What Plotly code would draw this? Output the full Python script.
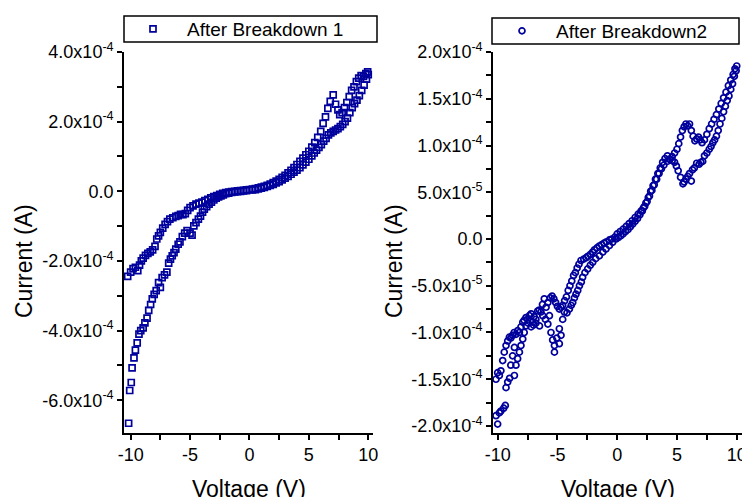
import plotly.graph_objects as go

# ---------------- Left panel: After Breakdown 1 (current in units of 1e-4 A) ----------------
L_V_up = [0.0, 0.25, 0.5, 0.75, 1.0, 1.25, 1.5, 1.75, 2.0, 2.25, 2.5, 2.75, 3.0, 3.25, 3.5, 3.75,
          4.0, 4.25, 4.5, 4.75, 5.0, 5.25, 5.5, 5.75, 6.0, 6.2, 6.4, 6.6, 6.8, 7.05, 7.25, 7.45,
          7.6, 7.8, 8.0, 8.2, 8.4, 8.6, 8.8, 9.0, 9.2, 9.4, 9.6, 9.8, 9.95]
L_I_up = [0.05, 0.06, 0.08, 0.10, 0.12, 0.14, 0.17, 0.21, 0.25, 0.29, 0.34, 0.40, 0.46, 0.53, 0.60, 0.68,
          0.77, 0.86, 0.95, 1.05, 1.15, 1.27, 1.40, 1.55, 1.72, 1.95, 2.14, 2.38, 2.58, 2.77, 2.50, 2.34,
          2.20, 2.26, 2.40, 2.55, 2.72, 2.90, 3.00, 3.15, 3.25, 3.32, 3.30, 3.38, 3.43]

L_V_down = [10.0, 9.85, 9.65, 9.45, 9.25, 9.05, 8.85, 8.65, 8.45, 8.25, 8.05, 7.85, 7.65, 7.45, 7.25,
            7.05, 6.85, 6.65, 6.45, 6.25, 6.05, 5.85, 5.65, 5.45, 5.25, 5.0, 4.75, 4.5, 4.25, 4.0,
            3.75, 3.5, 3.25, 3.0, 2.75, 2.5, 2.25, 2.0, 1.75, 1.5, 1.25, 1.0, 0.75, 0.5, 0.25]
L_I_down = [3.35, 3.22, 3.05, 2.90, 2.75, 2.62, 2.52, 2.40, 2.26, 2.10, 2.00, 1.92, 1.86, 1.80, 1.76,
            1.72, 1.68, 1.62, 1.52, 1.44, 1.34, 1.26, 1.18, 1.10, 1.02, 0.92, 0.84, 0.76, 0.68, 0.61,
            0.55, 0.49, 0.43, 0.38, 0.33, 0.28, 0.24, 0.20, 0.17, 0.14, 0.11, 0.09, 0.07, 0.05, 0.04]

L_V_neg1 = [-0.25, -0.5, -0.75, -1.0, -1.25, -1.5, -1.75, -2.0, -2.25, -2.5, -2.75, -3.0, -3.25, -3.5,
            -3.75, -4.0, -4.25, -4.5, -4.75, -5.0, -5.2, -5.4, -5.6, -5.8, -6.0, -6.2, -6.45, -6.7,
            -6.9, -7.1, -7.3, -7.5, -7.65, -7.8, -7.95, -8.15, -8.35, -8.55, -8.75, -8.95, -9.1,
            -9.25, -9.4, -9.6, -9.8, -10.0, -10.25]
L_I_neg1 = [0.04, 0.03, 0.02, 0.01, 0.0, -0.01, -0.02, -0.04, -0.06, -0.09, -0.12, -0.15, -0.19, -0.23,
            -0.27, -0.31, -0.34, -0.37, -0.42, -0.47, -0.55, -0.64, -0.67, -0.66, -0.70, -0.72, -0.76, -0.80,
            -0.87, -0.95, -1.06, -1.18, -1.28, -1.37, -1.58, -1.68, -1.74, -1.78, -1.84, -1.92, -2.0,
            -2.12, -2.28, -2.18, -2.22, -2.32, -2.44]

L_V_neg2 = [-10.17, -10.08, -9.95, -9.88, -9.72, -9.6, -9.45, -9.3, -9.15, -8.95, -8.8, -8.62, -8.48,
            -8.32, -8.18, -8.02, -7.85, -7.65, -7.5, -7.35, -7.15, -6.95, -6.8, -6.65, -6.5, -6.35,
            -6.2, -6.0, -5.85, -5.65, -5.45, -5.25, -5.0, -4.83, -4.68, -4.5, -4.3, -4.12, -3.95,
            -3.8, -3.6, -3.4, -3.2, -3.0, -2.8, -2.6, -2.4, -2.2, -2.0, -1.75, -1.5, -1.25, -1.0,
            -0.75, -0.5, -0.25]
L_I_neg2 = [-6.66, -5.72, -5.49, -5.07, -4.78, -4.56, -4.35, -4.1, -4.0, -3.92, -3.78, -3.64, -3.42,
            -3.25, -3.09, -2.96, -2.85, -2.62, -2.76, -2.48, -2.4, -2.32, -2.06, -1.95, -1.85, -1.76,
            -1.66, -1.52, -1.45, -1.3, -1.2, -1.13, -1.2, -1.26, -0.99, -0.9, -0.8, -0.71, -0.6,
            -0.51, -0.44, -0.37, -0.31, -0.25, -0.2, -0.16, -0.13, -0.1, -0.07, -0.05, -0.03, -0.02,
            -0.01, 0.0, 0.01, 0.02]

# ---------------- Right panel: After Breakdown2 (current in units of 1e-5 A) ----------------
R_V_up = [0.0, 0.25, 0.5, 0.75, 1.0, 1.25, 1.5, 1.75, 2.0, 2.2, 2.4, 2.6, 2.8, 3.0, 3.2, 3.4, 3.6, 3.8,
          4.0, 4.2, 4.4, 4.6, 4.8, 5.0, 5.15, 5.3, 5.45, 5.6, 5.75, 5.9, 6.05, 6.2, 6.35, 6.5, 6.65,
          6.8, 6.95, 7.1, 7.3, 7.5, 7.7, 7.9, 8.1, 8.3, 8.5, 8.7, 8.9, 9.1, 9.3, 9.5, 9.7, 9.85, 10.0]
R_I_up = [0.55, 0.8, 1.05, 1.35, 1.65, 1.95, 2.3, 2.65, 3.0, 3.35, 3.85, 4.45, 5.1, 5.7, 6.4, 7.0, 7.6,
          8.2, 8.6, 8.9, 8.5, 8.8, 9.2, 9.6, 10.2, 10.9, 11.6, 12.0, 12.3, 12.1, 12.3, 11.6, 11.0,
          10.5, 10.7, 10.9, 10.6, 10.3, 10.6, 11.2, 11.8, 12.3, 12.8, 13.3, 13.9, 14.5, 15.1, 15.7,
          16.4, 17.0, 17.6, 18.2, 18.5]

R_V_down = [9.95, 9.8, 9.65, 9.5, 9.35, 9.2, 9.05, 8.9, 8.75, 8.6, 8.45, 8.3, 8.15, 8.0, 7.85, 7.7,
            7.5, 7.3, 7.15, 7.0, 6.85, 6.65, 6.45, 6.3, 6.2, 6.05, 5.9, 5.75, 5.6, 5.5, 5.3, 5.1,
            4.95, 4.8, 4.6, 4.4, 4.2, 3.9, 3.7, 3.5, 3.3, 3.1, 2.9, 2.7, 2.5, 2.3, 2.1, 1.9, 1.7,
            1.5, 1.3, 1.1, 0.9, 0.7, 0.5, 0.3, 0.1]
R_I_down = [18.0, 17.4, 16.6, 16.0, 15.3, 14.8, 14.2, 13.6, 12.9, 12.3, 11.6, 11.0, 10.6, 10.3, 9.9,
            9.6, 9.2, 8.9, 8.3, 8.2, 8.0, 8.1, 7.6, 7.4, 6.2, 7.0, 6.7, 6.4, 6.1, 5.9, 6.6, 7.3,
            7.8, 8.2, 8.4, 8.55, 8.3, 7.9, 7.5, 7.0, 6.4, 5.8, 5.2, 4.6, 4.0, 3.5, 3.0, 2.6, 2.2,
            1.9, 1.6, 1.3, 1.0, 0.8, 0.55, 0.35, 0.15]

R_V_neg1 = [-0.2, -0.45, -0.65, -0.9, -1.1, -1.3, -1.5, -1.7, -1.9, -2.05, -2.25, -2.45, -2.6, -2.8,
            -3.03, -3.2, -3.35, -3.5, -3.65, -3.8, -3.95, -4.1, -4.25, -4.4, -4.56, -4.7, -4.84,
            -5.0, -5.15, -5.3, -5.45, -5.6, -5.8, -5.95, -6.1, -6.25, -6.38, -6.52, -6.65, -6.8,
            -6.95, -7.07, -7.2, -7.35, -7.5, -7.63, -7.78, -7.9, -8.05, -8.18, -8.33, -8.47, -8.62,
            -8.75, -8.9, -9.02, -9.16, -9.3, -9.45, -9.58, -9.73, -9.86, -10.0, -10.14]
R_I_neg1 = [0.2, 0.0, -0.1, -0.3, -0.45, -0.6, -0.75, -0.95, -1.15, -1.4, -1.65, -1.85, -2.0, -2.15,
            -2.3, -2.7, -3.1, -3.6, -3.9, -4.5, -5.0, -5.5, -6.2, -6.6, -7.1, -7.3, -7.5, -7.2, -6.8,
            -6.4, -6.1, -6.3, -6.8, -7.3, -6.4, -7.0, -7.8, -7.6, -7.7, -8.6, -8.3, -8.9, -8.0, -8.2,
            -8.6, -8.4, -8.7, -8.9, -9.4, -10.0, -9.8, -10.2, -10.0, -10.3, -10.6, -10.5, -10.9,
            -11.4, -12.1, -13.0, -14.1, -14.6, -14.3, -15.0]

R_V_neg2 = [-10.0, -10.14, -9.86, -9.73, -9.5, -9.36, -9.3, -9.16, -9.0, -8.9, -8.75, -8.6, -8.6,
            -8.47, -8.33, -8.18, -8.05, -7.9, -7.78, -7.63, -7.45, -7.2, -7.0, -6.8, -6.5, -6.23,
            -6.0, -5.8, -5.67, -5.54, -5.4, -5.25, -5.25, -5.05, -4.84, -4.7, -4.84, -4.56, -4.42,
            -4.2, -4.0, -3.85, -3.72, -3.58, -3.45, -3.3, -3.16, -3.0, -2.89, -2.7, -2.47, -2.25,
            -2.05, -1.8, -1.49, -1.2, -0.94, -0.65, -0.38, -0.1]
R_I_neg2 = [-19.8, -18.9, -18.6, -18.4, -18.1, -17.8, -15.9, -15.3, -14.9, -13.5, -12.5, -14.6, -11.6,
            -13.5, -12.8, -12.1, -11.4, -10.7, -10.0, -9.3, -9.0, -9.4, -9.2, -9.0, -9.3, -8.2, -8.6,
            -9.1, -8.2, -10.0, -10.8, -11.4, -12.1, -10.6, -11.2, -10.3, -9.6, -8.6, -7.8, -7.9,
            -7.5, -7.1, -6.8, -6.3, -5.9, -5.5, -5.0, -4.6, -4.1, -3.6, -3.2, -2.8, -2.5, -2.1,
            -1.8, -1.4, -1.07, -0.7, -0.36, 0.0]

# ---------------- Tick labels ----------------
X_TICKVALS = [-10, -7.5, -5, -2.5, 0, 2.5, 5, 7.5, 10]
X_TICKTEXT = ["-10", "", "-5", "", "0", "", "5", "", "10"]

L_Y_TICKVALS = [-6e-4, -5e-4, -4e-4, -3e-4, -2e-4, -1e-4, 0, 1e-4, 2e-4, 3e-4, 4e-4]
L_Y_TICKTEXT = ["-6.0x10<sup>-4</sup>", "", "-4.0x10<sup>-4</sup>", "", "-2.0x10<sup>-4</sup>", "",
                "0.0", "", "2.0x10<sup>-4</sup>", "", "4.0x10<sup>-4</sup>"]

R_Y_TICKVALS = [-2e-4, -1.75e-4, -1.5e-4, -1.25e-4, -1e-4, -7.5e-5, -5e-5, -2.5e-5, 0,
                2.5e-5, 5e-5, 7.5e-5, 1e-4, 1.25e-4, 1.5e-4, 1.75e-4, 2e-4]
R_Y_TICKTEXT = ["-2.0x10<sup>-4</sup>", "", "-1.5x10<sup>-4</sup>", "", "-1.0x10<sup>-4</sup>", "",
                "-5.0x10<sup>-5</sup>", "", "0.0", "", "5.0x10<sup>-5</sup>", "",
                "1.0x10<sup>-4</sup>", "", "1.5x10<sup>-4</sup>", "", "2.0x10<sup>-4</sup>"]

NAME_1 = "After Breakdown 1"
NAME_2 = "After Breakdown2"

# ---------------- Build figure ----------------
W, H = 750, 497
OFF = 8  # default page body margin shifts the figure by this many pixels
COLOR = "#00009c"
FONT = "Liberation Sans, Arial, sans-serif"

left_v = L_V_up + L_V_down + L_V_neg1 + L_V_neg2
left_i = [c * 1e-4 for c in (L_I_up + L_I_down + L_I_neg1 + L_I_neg2)]
right_v = R_V_up + R_V_down + R_V_neg1 + R_V_neg2
right_i = [c * 1e-5 for c in (R_I_up + R_I_down + R_I_neg1 + R_I_neg2)]

fig = go.Figure()
fig.add_trace(go.Scatter(
    x=left_v, y=left_i, mode="markers", name=NAME_1, legend="legend", showlegend=True,
    marker=dict(symbol="square-open", size=6, color=COLOR, line=dict(width=1.7, color=COLOR)),
    xaxis="x", yaxis="y"))
fig.add_trace(go.Scatter(
    x=right_v, y=right_i, mode="markers", name=NAME_2, legend="legend2", showlegend=True,
    marker=dict(symbol="circle-open", size=6, color=COLOR, line=dict(width=1.7, color=COLOR)),
    xaxis="x2", yaxis="y2"))


def px_x(p):
    return (p - OFF) / W


def px_y(p):
    return (H - (p - OFF)) / H


ydom = [px_y(433), px_y(52)]
axis_common = dict(showline=True, linecolor="black", linewidth=1.6, ticks="outside", ticklen=5,
                   tickwidth=1.5, tickcolor="black", showgrid=False, zeroline=False,
                   automargin=False,
                   tickfont=dict(family=FONT, size=18, color="black"), mirror=False)

fig.update_layout(
    template="none",
    width=W, height=H,
    margin=dict(l=0, r=0, t=0, b=0, autoexpand=False),
    paper_bgcolor="white", plot_bgcolor="white",
    showlegend=True,
    xaxis=dict(domain=[px_x(124), px_x(373)], range=[-10.56, 10.4], anchor="y",
               tickmode="array", tickvals=X_TICKVALS, ticktext=X_TICKTEXT, **axis_common),
    yaxis=dict(domain=ydom, range=[-6.94e-4, 4.0e-4], anchor="x",
               tickmode="array", tickvals=L_Y_TICKVALS, ticktext=L_Y_TICKTEXT, **axis_common),
    xaxis2=dict(domain=[px_x(493), px_x(742)], range=[-10.39, 10.44], anchor="y2",
                tickmode="array", tickvals=X_TICKVALS, ticktext=X_TICKTEXT, **axis_common),
    yaxis2=dict(domain=ydom, range=[-2.075e-4, 2.0e-4], anchor="x2",
                tickmode="array", tickvals=R_Y_TICKVALS, ticktext=R_Y_TICKTEXT, **axis_common),
    legend=dict(x=px_x(119), y=px_y(29), xanchor="left", yanchor="middle",
                bgcolor="rgba(0,0,0,0)", borderwidth=0, itemwidth=58,
                font=dict(family=FONT, size=19, color="black")),
    legend2=dict(x=px_x(488), y=px_y(31), xanchor="left", yanchor="middle",
                 bgcolor="rgba(0,0,0,0)", borderwidth=0, itemwidth=58,
                 font=dict(family=FONT, size=19, color="black")),
    shapes=[
        dict(type="rect", xref="paper", yref="paper", x0=px_x(124), x1=px_x(377),
             y0=px_y(42), y1=px_y(16), line=dict(color="black", width=1.5)),
        dict(type="rect", xref="paper", yref="paper", x0=px_x(492), x1=px_x(739),
             y0=px_y(44), y1=px_y(18), line=dict(color="black", width=1.5)),
    ],
    annotations=[
        dict(text="Voltage (V)", xref="paper", yref="paper", x=px_x(248.5), y=px_y(489),
             xanchor="center", yanchor="middle", showarrow=False,
             font=dict(family=FONT, size=23, color="black")),
        dict(text="Voltage (V)", xref="paper", yref="paper", x=px_x(617.5), y=px_y(489),
             xanchor="center", yanchor="middle", showarrow=False,
             font=dict(family=FONT, size=23, color="black")),
        dict(text="Current (A)", xref="paper", yref="paper", x=px_x(24), y=px_y(261),
             xanchor="center", yanchor="middle", showarrow=False, textangle=-90,
             font=dict(family=FONT, size=23, color="black")),
        dict(text="Current (A)", xref="paper", yref="paper", x=px_x(394), y=px_y(261),
             xanchor="center", yanchor="middle", showarrow=False, textangle=-90,
             font=dict(family=FONT, size=23, color="black")),
    ],
)

fig.write_html("out.html")
